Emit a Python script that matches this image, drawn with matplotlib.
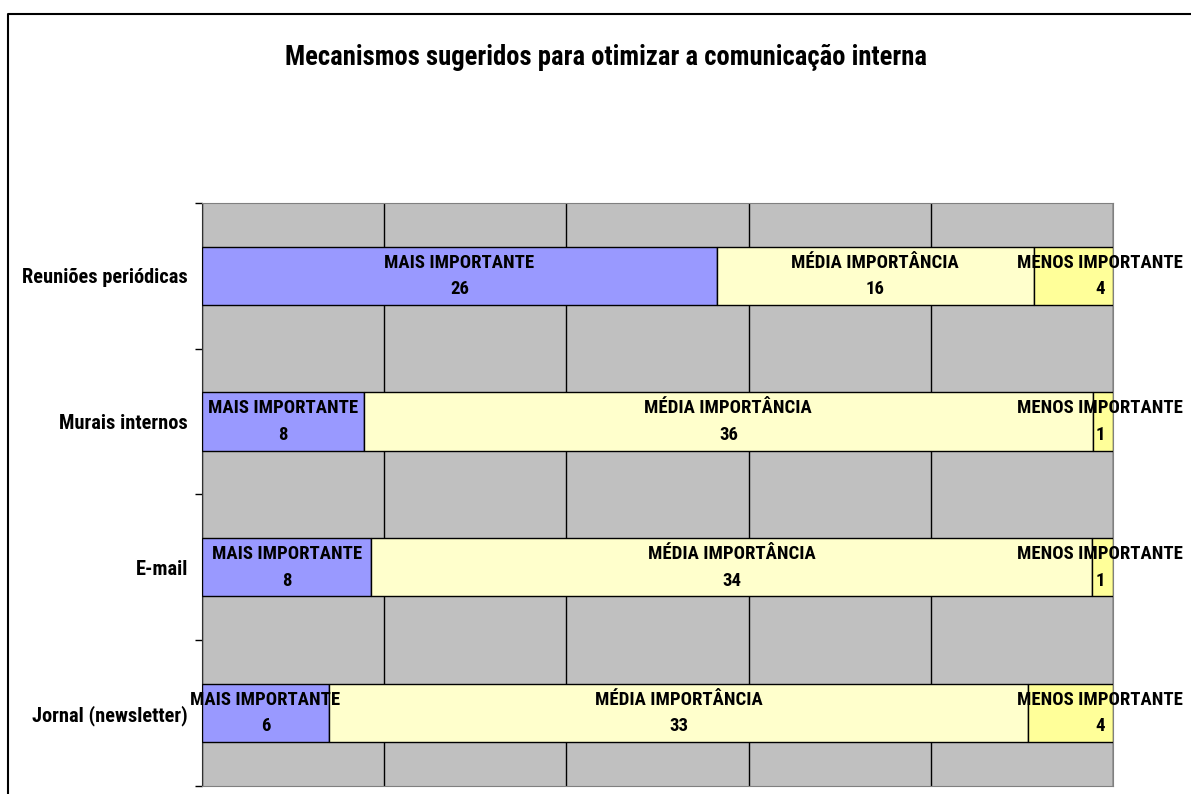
import matplotlib.pyplot as plt
from matplotlib.lines import Line2D
import numpy as np

# Dados do gráfico
categorias = ['Reuniões periódicas', 'Murais internos', 'E-mail', 'Jornal (newsletter)']
series = ['MAIS IMPORTANTE', 'MÉDIA IMPORTÂNCIA', 'MENOS IMPORTANTE']
mais = [26, 8, 8, 6]
media = [16, 36, 34, 33]
menos = [4, 1, 1, 4]
cores = ['#9999FF', '#FFFFCC', '#FFFF99']

plt.rcParams['font.family'] = ['Roboto Condensed', 'DejaVu Sans']
plt.rcParams['font.weight'] = 'bold'

valores = np.array([mais, media, menos], dtype=float)
totais = valores.sum(axis=0)
fracoes = valores / totais

fig = plt.figure(figsize=(11.91, 7.94), dpi=100)
ax = fig.add_axes([0.1696, 0.0101, 0.7649, 0.7343])
ax.set_facecolor('#C0C0C0')

y = np.arange(len(categorias))
esquerda = np.zeros(len(categorias))
for i, nome in enumerate(series):
    ax.barh(y, fracoes[i], left=esquerda, height=0.4, color=cores[i],
            edgecolor='black', linewidth=1, zorder=3)
    for j in range(len(categorias)):
        xc = esquerda[j] + fracoes[i][j] / 2
        if i == len(series) - 1:
            xc = 0.986  # rótulos do último segmento encostados à direita
        ax.text(xc, y[j], nome + '\n' + str(int(valores[i][j])),
                ha='center', va='center', fontsize=13.5, fontweight='bold',
                linespacing=1.6, zorder=5, clip_on=False)
    esquerda += fracoes[i]

ax.set_xlim(0, 1)
ax.set_ylim(3.5, -0.5)
ax.set_xticks([0, 0.2, 0.4, 0.6, 0.8, 1.0])
ax.set_xticklabels([])
ax.tick_params(axis='x', length=0)
ax.grid(axis='x', color='black', linewidth=1)
ax.set_axisbelow(True)

ax.set_yticks(y)
ax.set_yticklabels(categorias, fontsize=14.7, fontweight='bold')
ax.tick_params(axis='y', which='major', length=0, pad=10)
ax.set_yticks(np.arange(-0.5, 4, 1), minor=True)
ax.tick_params(axis='y', which='minor', length=5, color='black', width=1)

for s in ['top', 'right', 'bottom']:
    ax.spines[s].set_color('#808080')
ax.spines['left'].set_color('#303030')

fig.text(0.509, 0.928, 'Mecanismos sugeridos para otimizar a comunicação interna',
         ha='center', va='center', fontsize=19.2, fontweight='bold')

# Borda da área do gráfico
fig.add_artist(Line2D([8 / 1191, 8 / 1191, 1], [0, 1 - 14 / 794, 1 - 14 / 794],
                      transform=fig.transFigure, color='black', linewidth=1.5))

fig.savefig('out.png', dpi=100)
